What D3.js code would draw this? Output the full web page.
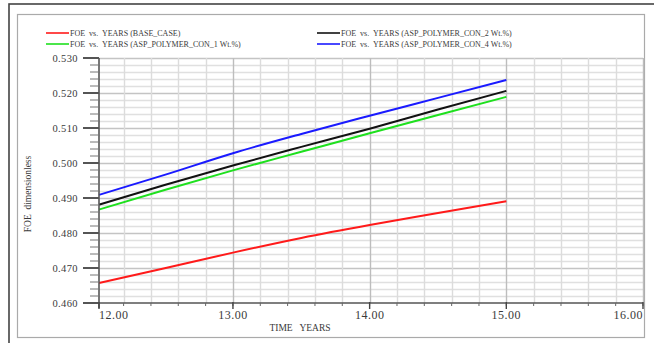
<!DOCTYPE html>
<html>
<head>
<meta charset="utf-8">
<script src="https://cdn.jsdelivr.net/npm/d3@7"></script>
<style>
  html, body { margin: 0; padding: 0; background: #fff; }
  svg { display: block; }
  text { font-family: "Liberation Serif", "DejaVu Serif", serif; fill: #3a3a3a; white-space: pre; }
</style>
</head>
<body>
<svg id="chart" width="654" height="343"></svg>
<script>
// Simulation time (years) and field oil recovery efficiency per case
const years = [12.02, 12.5, 13.0, 13.5, 14.0, 14.5, 15.0];
const baseCase = [0.4657, 0.4699, 0.4744, 0.4786, 0.4823, 0.4857, 0.4891];
const polymer1 = [0.4867, 0.4923, 0.4979, 0.5032, 0.5085, 0.5137, 0.5189];
const polymer2 = [0.4881, 0.4937, 0.4993, 0.5046, 0.5098, 0.5153, 0.5206];
const polymer4 = [0.4909, 0.4966, 0.5028, 0.5083, 0.5135, 0.5186, 0.5237];

const seriesNames = [
  "FOE  vs.  YEARS (BASE_CASE)",
  "FOE  vs.  YEARS (ASP_POLYMER_CON_1 Wt.%)",
  "FOE  vs.  YEARS (ASP_POLYMER_CON_2 Wt.%)",
  "FOE  vs.  YEARS (ASP_POLYMER_CON_4 Wt.%)"
];
const seriesColors = ["#ff1a1a", "#1ee01e", "#111111", "#1a1aff"];
const seriesValues = [baseCase, polymer1, polymer2, polymer4];

const xTicks = [12, 13, 14, 15, 16];
const xTickLabels = ["12.00", "13.00", "14.00", "15.00", "16.00"];
const yTicks = [0.46, 0.47, 0.48, 0.49, 0.50, 0.51, 0.52, 0.53];
const yTickLabels = ["0.460", "0.470", "0.480", "0.490", "0.500", "0.510", "0.520", "0.530"];

const svg = d3.select("#chart");

// Frame: outer dark border and inner grey panel
svg.append("rect").attr("x", 9).attr("y", 4).attr("width", 700).attr("height", 400)
  .attr("fill", "none").attr("stroke", "#444").attr("stroke-width", 1.6);
svg.append("rect").attr("x", 17.5).attr("y", 14.5).attr("width", 627).attr("height", 323)
  .attr("fill", "none").attr("stroke", "#aaa").attr("stroke-width", 1.2);

const plot = { left: 99, right: 643, top: 58, bottom: 303 };
const x = d3.scaleLinear().domain([12.02, 16]).range([plot.left, plot.right]);
const y = d3.scaleLinear().domain([0.46, 0.53]).range([plot.bottom, plot.top]);

// Grid
const g = svg.append("g");
const minorX = d3.range(12.2, 16.0001, 0.2);
const minorY = d3.range(0.462, 0.5301, 0.002);
g.selectAll(".gy").data(minorY).enter().append("line")
  .attr("x1", plot.left).attr("x2", plot.right)
  .attr("y1", d => Math.round(y(d)) + 0.5).attr("y2", d => Math.round(y(d)) + 0.5)
  .attr("stroke", d => Math.abs(Math.round(d * 100) - d * 100) < 1e-6 ? "#c4c4c4" : "#e0e0e0")
  .attr("stroke-width", 1.4);
g.selectAll(".gx").data(minorX).enter().append("line")
  .attr("y1", plot.top).attr("y2", plot.bottom)
  .attr("x1", d => Math.round(x(d)) + 0.5).attr("x2", d => Math.round(x(d)) + 0.5)
  .attr("stroke", d => Math.abs(Math.round(d) - d) < 1e-6 ? "#bdbdbd" : "#dcdcdc")
  .attr("stroke-width", 1.4);

// Series lines
const line = d3.line().x((d, i) => x(years[i])).y(d => y(d)).curve(d3.curveMonotoneX);
seriesValues.forEach((vals, k) => {
  svg.append("path").datum(vals).attr("d", line)
    .attr("fill", "none").attr("stroke", seriesColors[k]).attr("stroke-width", 2);
});

// Y axis
const ax = svg.append("g");
ax.append("line").attr("x1", plot.left).attr("x2", plot.left).attr("y1", plot.top).attr("y2", plot.bottom + 5)
  .attr("stroke", "#555").attr("stroke-width", 1.6);
ax.selectAll(".ymin").data(minorY.concat([0.46])).enter().append("line")
  .attr("x1", plot.left - 9).attr("x2", plot.left)
  .attr("y1", d => y(d)).attr("y2", d => y(d)).attr("stroke", "#777").attr("stroke-width", 1);
ax.selectAll(".ymaj").data(yTicks).enter().append("line")
  .attr("x1", plot.left - 16).attr("x2", plot.left)
  .attr("y1", d => y(d)).attr("y2", d => y(d)).attr("stroke", "#555").attr("stroke-width", 2);
ax.selectAll(".ylab").data(yTicks).enter().append("text")
  .attr("x", 78).attr("y", d => y(d) + 3.8).attr("text-anchor", "end")
  .attr("font-size", 10.5).attr("letter-spacing", 0.4)
  .text((d, i) => yTickLabels[i]);

// X axis
ax.append("line").attr("x1", plot.left).attr("x2", plot.right).attr("y1", plot.bottom).attr("y2", plot.bottom)
  .attr("stroke", "#555").attr("stroke-width", 1.6);
ax.selectAll(".xmin").data(minorX).enter().append("line")
  .attr("x1", d => x(d)).attr("x2", d => x(d)).attr("y1", plot.bottom).attr("y2", plot.bottom + 3)
  .attr("stroke", "#666").attr("stroke-width", 1);
const xPos = d => Math.max(x(d), plot.left);
ax.selectAll(".xmaj").data(xTicks).enter().append("line")
  .attr("x1", xPos).attr("x2", xPos).attr("y1", plot.bottom - 1).attr("y2", plot.bottom + 6)
  .attr("stroke", "#444").attr("stroke-width", 1.4);
ax.selectAll(".xlab").data(xTicks).enter().append("text")
  .attr("x", (d, i) => i === xTicks.length - 1 ? plot.right : xPos(d))
  .attr("y", 319)
  .attr("text-anchor", (d, i) => i === 0 ? "start" : (i === xTicks.length - 1 ? "end" : "middle"))
  .attr("font-size", 12).attr("letter-spacing", 0.5)
  .text((d, i) => xTickLabels[i]);

// Axis titles
svg.append("text").attr("x", 300).attr("y", 331).attr("text-anchor", "middle")
  .attr("font-size", 9.5).text("TIME   YEARS");
svg.append("text").attr("transform", "translate(31,194) rotate(-90)").attr("text-anchor", "middle")
  .attr("font-size", 9.5).text("FOE  dimensionless");

// Legend (two columns, two rows)
const legendPos = [[46, 33], [46, 44], [317, 33], [317, 44]];
seriesNames.forEach((name, k) => {
  const [lx, ly] = legendPos[k];
  svg.append("line").attr("x1", lx).attr("x2", lx + 23).attr("y1", ly).attr("y2", ly)
    .attr("stroke", seriesColors[k]).attr("stroke-width", 1.6);
  svg.append("text").attr("x", lx + 24).attr("y", ly + 2.8).attr("font-size", 8).text(name);
});
</script>
</body>
</html>
